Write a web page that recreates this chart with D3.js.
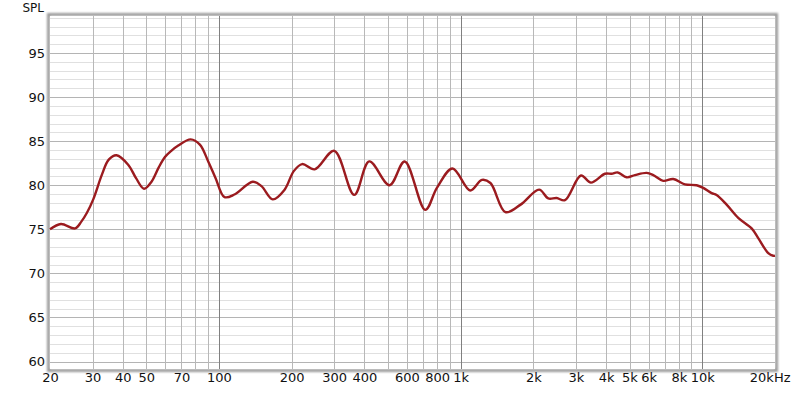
<!DOCTYPE html>
<html><head><meta charset="utf-8">
<script src="https://cdn.jsdelivr.net/npm/d3@7"></script>
<style>body{margin:0;background:#fff}svg{display:block}text{font-family:"DejaVu Sans",sans-serif;fill:#111}</style>
</head><body><svg id="c" width="800" height="393"></svg>
<script>
const freqs = [20,22.2,25.4,27,28.4,30.2,32.8,35,37.7,42.2,45.4,49,52.6,56.3,59.8,63.5,67.9,76.4,83.4,90.3,96.9,105.5,116,138,150,167,187,204,221,249,300,363,419,508,587,714,798,926,1096,1225,1329,1533,1772,2113,2306,2497,2703,3148,3462,3957,4216,4466,4865,5267,5887,6270,6895,7585,8477,9476,10092,10935,11466,12613,14089,16008,17048,18752,19660,20000];
const spl = [75.0,75.6,75.1,75.9,76.85,78.4,81.2,82.9,83.4,82.3,80.8,79.6,80.4,82.0,83.2,83.9,84.5,85.2,84.6,82.7,80.8,78.65,78.95,80.4,79.9,78.4,79.5,81.6,82.4,81.8,83.9,78.9,82.7,80.0,82.7,77.2,79.7,81.9,79.4,80.6,80.25,76.95,77.8,79.5,78.5,78.55,78.3,81.1,80.3,81.3,81.3,81.45,80.9,81.15,81.4,81.15,80.5,80.7,80.1,80.0,79.7,79.1,78.9,77.8,76.3,75.1,74.0,72.3,72.0,72.0];
const xTickValues = [20,30,40,50,70,100,200,300,400,600,800,1000,2000,3000,4000,5000,6000,8000,10000,20000];
const xTickLabels = ["20","30","40","50","70","100","200","300","400","600","800","1k","2k","3k","4k","5k","6k","8k","10k","20kHz"];
const yTickValues = [60,65,70,75,80,85,90,95];

const L=50,R=775,T=16,B=369;
const svg=d3.select("#c");
const x=d3.scaleLog().domain([20,20000]).range([L,R]);
const y=d3.scaleLinear().domain([59.15,99.2]).range([B,T]);

const defs=svg.append("defs");
const f=defs.append("filter").attr("id","sh").attr("x","-5%").attr("y","-5%").attr("width","110%").attr("height","110%");
f.append("feGaussianBlur").attr("in","SourceGraphic").attr("stdDeviation",1.2);
svg.append("rect").attr("x",L-1.5).attr("y",T-1.5).attr("width",R-L+3).attr("height",B-T+3)
  .attr("fill","none").attr("stroke","#9a9a9a").attr("stroke-width",3).attr("filter","url(#sh)");
svg.append("rect").attr("x",L).attr("y",T).attr("width",R-L).attr("height",B-T).attr("fill","#fff");

const g=svg.append("g");
d3.range(60,100).forEach(v=>{
  const yy=Math.round(y(v))+0.5;
  g.append("line").attr("x1",L).attr("x2",R).attr("y1",yy).attr("y2",yy)
   .attr("stroke",v%5===0?"#b4b4b4":"#e0e0e0").attr("stroke-width",1);
});
const vlines=[];
[10,100,1000,10000].forEach(d=>{for(let k=1;k<=9;k++){const v=d*k; if(v>20&&v<20000) vlines.push(v);}});
vlines.forEach(v=>{
  const xx=Math.round(x(v))+0.5;
  const dec=(v===100||v===1000||v===10000);
  g.append("line").attr("x1",xx).attr("x2",xx).attr("y1",T).attr("y2",B)
   .attr("stroke",dec?"#808080":"#b8b8b8").attr("stroke-width",1);
});

const xAxis=d3.axisBottom(x).tickValues(xTickValues).tickFormat((d,i)=>xTickLabels[i]).tickSize(0).tickPadding(0);
const xa=svg.append("g").attr("transform",`translate(0,${B+4})`).call(xAxis);
xa.select(".domain").remove();
xa.selectAll("text").attr("font-size",13).attr("dy","0.71em").attr("font-family","DejaVu Sans").attr("fill","#111");
xa.selectAll(".tick").filter(d=>d===20000).select("text").attr("text-anchor","end").attr("dx",15);

const yAxis=d3.axisLeft(y).tickValues(yTickValues).tickSize(0).tickPadding(0);
const ya=svg.append("g").attr("transform",`translate(${L-5},0)`).call(yAxis);
ya.select(".domain").remove();
ya.selectAll("text").attr("font-size",13).attr("font-family","DejaVu Sans").attr("fill","#111");

svg.append("text").attr("x",44).attr("y",12).attr("text-anchor","end").attr("font-size",12).text("SPL");

const line=d3.line().x((d,i)=>x(freqs[i])).y(d=>y(d)).curve(d3.curveCatmullRom.alpha(0.5));
svg.append("path").datum(spl).attr("d",line).attr("fill","none")
  .attr("stroke","#9b1b1f").attr("stroke-width",2.4).attr("stroke-linejoin","round");
</script></body></html>
